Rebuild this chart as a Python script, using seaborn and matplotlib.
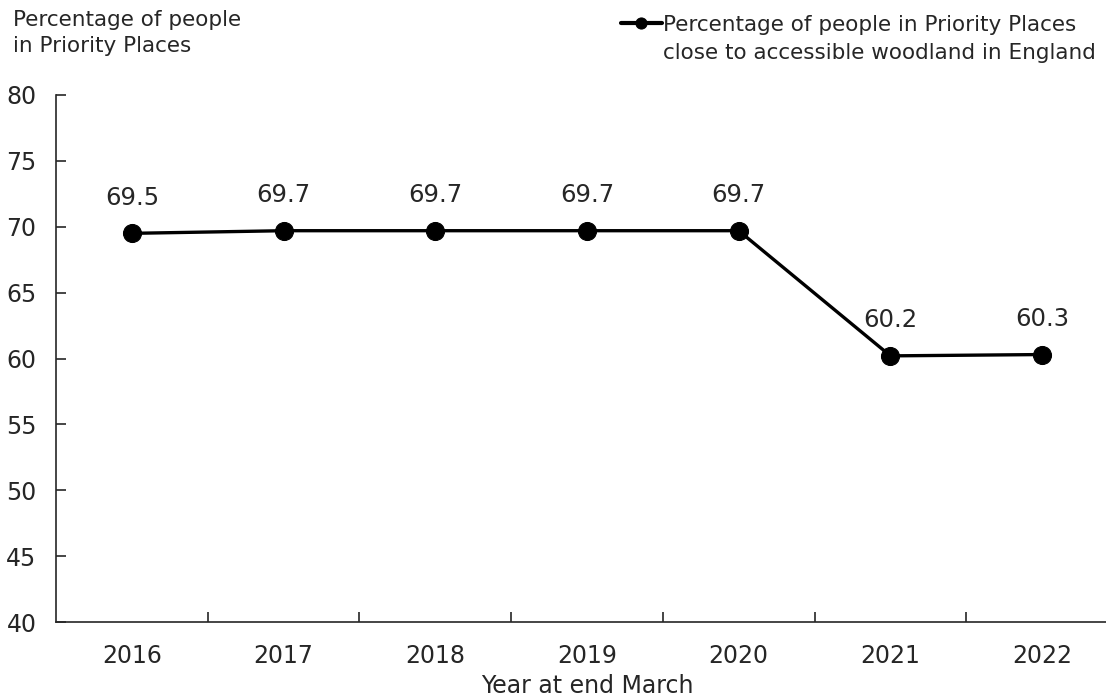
import pandas as pd
import matplotlib.pyplot as plt
import seaborn as sns

years = ['2016', '2017', '2018', '2019', '2020', '2021', '2022']
pct = [69.5, 69.7, 69.7, 69.7, 69.7, 60.2, 60.3]
yticks = [40, 45, 50, 55, 60, 65, 70, 75, 80]
series_name = 'Percentage of people in Priority Places'
series_name2 = 'close to accessible woodland in England'

sns.set_theme(style='white')
plt.rcParams['font.family'] = ['DejaVu Sans']
plt.rcParams['text.color'] = '#262626'

df = pd.DataFrame({'year': years, 'pct': pct})

fig = plt.figure(figsize=(11.06, 6.97), dpi=100)
ax = fig.add_axes([56 / 1106, 1 - 622 / 697, (1118 - 56) / 1106, (622 - 95) / 697])

sns.lineplot(data=df, x='year', y='pct', ax=ax, color='black', linewidth=2.4,
             marker='o', markersize=13, markeredgecolor='black', label=series_name)

for i, v in enumerate(pct):
    ax.annotate(f'{v:.1f}', (i, v), xytext=(0, 17), textcoords='offset points',
                ha='center', va='bottom', fontsize=17.5, color='#262626')

ax.set_xlim(-0.5, len(years) - 0.5)
ax.set_ylim(40, 80)
ax.set_yticks(yticks)
ax.set_xticks(range(len(years)))
ax.set_xticklabels(years)
ax.set_xticks([i + 0.5 for i in range(len(years) - 1)], minor=True)

for s in ['top', 'right']:
    ax.spines[s].set_visible(False)
for s in ['left', 'bottom']:
    ax.spines[s].set_color('#262626')
    ax.spines[s].set_linewidth(1.2)

ax.tick_params(axis='y', which='major', direction='in', length=7, width=1.2, left=True,
               pad=14, labelsize=17, labelcolor='#262626', color='#262626')
ax.tick_params(axis='x', which='major', length=0, pad=16, labelsize=17, labelcolor='#262626')
ax.tick_params(axis='x', which='minor', direction='in', length=7, width=1.2, bottom=True,
               color='#262626')

ax.set_xlabel('Year at end March', fontsize=17, labelpad=4, color='#262626')
ax.set_ylabel('')

fig.text(13 / 1106, 1 - 10 / 697, 'Percentage of people\nin Priority Places', fontsize=15.5,
         va='top', ha='left', linespacing=1.4)

leg = ax.legend(loc='upper left', bbox_to_anchor=(621 / 1106, 1 - 15 / 697),
                bbox_transform=fig.transFigure, frameon=False, fontsize=15.5,
                handlelength=1.9, handletextpad=0.05, borderpad=0, borderaxespad=0)
for h in leg.get_lines():
    h.set_markersize(8)
    h.set_linewidth(3)

fig.canvas.draw()
bb = leg.get_texts()[0].get_window_extent().transformed(fig.transFigure.inverted())
fig.text(bb.x0, bb.y0 - 8 / 697, series_name2, fontsize=15.5, va='top', ha='left')

fig.savefig('out.png', dpi=100)
